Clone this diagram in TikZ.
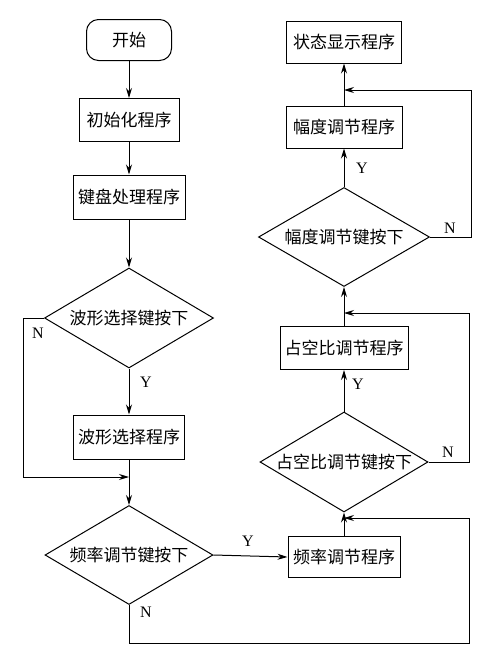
\documentclass[tikz,border=0pt]{standalone}
\usepackage{fontspec}
\setmainfont{Liberation Serif}
\newfontfamily\cjk{Noto Sans CJK SC}
\usetikzlibrary{positioning, shapes.geometric}
\usetikzlibrary{arrows.meta}

\begin{document}
\begin{tikzpicture}[x=1pt, y=-1pt, line width=1pt,
  >={Stealth[length=10pt, width=6pt]},
  box/.style={draw, rectangle, inner sep=0pt, font=\cjk\fontsize{17}{19}\selectfont},
  term/.style={box, rounded corners=12pt},
  test/.style={draw, diamond, aspect=1.7, inner sep=0pt, font=\cjk\fontsize{17}{19}\selectfont},
  lab/.style={font=\fontsize{16}{18}\selectfont}]
\useasboundingbox (0,0) rectangle (503,662);
\def\xl{129}
\def\xr{344}

% left column
\node[term, minimum width=85pt, minimum height=41pt] (start) at (\xl,40) {开始};
\node[box, minimum width=100pt, minimum height=43pt] (init) at (\xl,120) {初始化程序};
\node[box, minimum width=112pt, minimum height=44pt] (key) at (\xl,197) {键盘处理程序};
\node[test, minimum width=169pt, minimum height=100pt] (wsel) at (\xl,318) {波形选择键按下};
\node[box, minimum width=111pt, minimum height=44pt] (wprog) at (\xl,437) {波形选择程序};
\node[test, minimum width=168pt, minimum height=99pt] (fsel) at (\xl,555) {频率调节键按下};

% right column
\node[box, minimum width=112pt, minimum height=41pt] (fprog) at (\xr,557) {频率调节程序};
\node[test, minimum width=168pt, minimum height=100pt] (dsel) at (\xr,462) {占空比调节键按下};
\node[box, minimum width=128pt, minimum height=43pt] (dprog) at (\xr,348) {占空比调节程序};
\node[test, minimum width=171pt, minimum height=99pt] (asel) at (\xr,237) {幅度调节键按下};
\node[box, minimum width=116pt, minimum height=42pt] (aprog) at (\xr,127) {幅度调节程序};
\node[box, minimum width=115pt, minimum height=42pt] (disp) at (\xr,42) {状态显示程序};

\coordinate (J1) at (\xl,477);
\coordinate (J2) at (\xr,518);
\coordinate (J3) at (\xr,313);
\coordinate (J4) at (\xr,90);

\draw[->] (start) -- (init);
\draw[->] (init) -- (key);
\draw[->] (key) -- (wsel);
\draw[->] (wsel) -- (wprog);
\draw[->] (wprog) -- (fsel);
\draw[->] (wsel.west) -- (23,318) |- (J1);
\draw[->] (fsel.east) -- (fprog.west);
\draw[->] (fsel.south) -- (\xl,643) -| (469,518) -- (J2);
\draw[->] (fprog) -- (dsel);
\draw[->] (dsel.east) -- (469,462) |- (J3);
\draw[->] (dsel) -- (dprog);
\draw[->] (dprog) -- (asel);
\draw[->] (asel.east) -- (471,237) |- (J4);
\draw[->] (asel) -- (aprog);
\draw[->] (aprog) -- (disp);

\node[lab] (y1) at (146,382) {Y};
\node[lab] (n1) at (38,333) {N};
\node[lab] (y2) at (248,541) {Y};
\node[lab] (n2) at (146,612) {N};
\node[lab] (n3) at (448,452) {N};
\node[lab] (y3) at (358,384) {Y};
\node[lab] (n4) at (450,228) {N};
\node[lab] (y4) at (362,168) {Y};
\end{tikzpicture}
\end{document}
